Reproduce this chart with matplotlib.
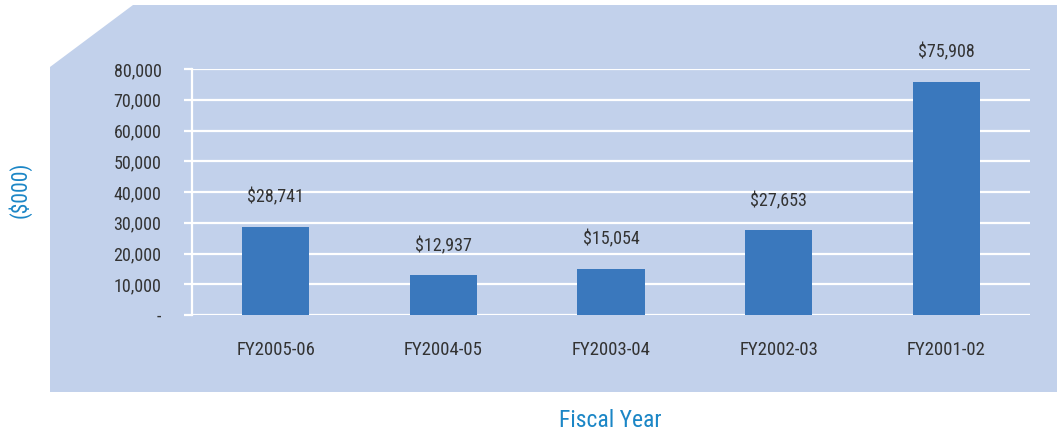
import matplotlib
matplotlib.use("Agg")
import matplotlib.pyplot as plt
from matplotlib.patches import Polygon
from matplotlib.ticker import FuncFormatter

categories = ["FY2005-06", "FY2004-05", "FY2003-04", "FY2002-03", "FY2001-02"]
values = [28741, 12937, 15054, 27653, 75908]
yticks = [0, 10000, 20000, 30000, 40000, 50000, 60000, 70000, 80000]

plt.rcParams['font.family'] = ['Roboto Condensed', 'DejaVu Sans']
W, H = 1057, 436
fig = plt.figure(figsize=(W / 100, H / 100), dpi=100)

def fp(x, y):
    return (x / W, 1 - y / H)

panel = Polygon([fp(50, 392), fp(50, 67), fp(133, 5), fp(1057, 5), fp(1057, 392)],
                closed=True, transform=fig.transFigure, facecolor="#C2D1EB",
                edgecolor="none", zorder=-5)
fig.add_artist(panel)

ax = fig.add_axes([192 / W, 1 - 315 / H, (1030 - 192) / W, (315 - 69) / H])
ax.set_facecolor("none")
ax.set_zorder(1)
x = list(range(len(categories)))
ax.bar(x, values, width=0.4, color="#3A78BD", zorder=3)
ax.set_xlim(-0.5, len(categories) - 0.5)
ax.set_ylim(0, 80000)
ax.set_yticks(yticks)
ax.yaxis.set_major_formatter(FuncFormatter(lambda v, p: "-" if v == 0 else f"{int(v):,}"))
ax.set_xticks(x)
ax.set_xticklabels(categories)
ax.grid(axis="y", color="white", linewidth=1.6, zorder=1)
ax.set_axisbelow(True)
for s in ["top", "right", "bottom"]:
    ax.spines[s].set_visible(False)
ax.spines["left"].set_color("white")
ax.spines["left"].set_linewidth(1.6)
ax.tick_params(axis="y", colors="white", length=6, width=1.6, pad=16, labelcolor="#333333", labelsize=13)
ax.tick_params(axis="x", length=0, pad=19, labelcolor="#333333", labelsize=13.5)

for xi, v in zip(x, values):
    ax.annotate(f"${v:,}", (xi, v), xytext=(0, 21), textcoords="offset points",
                ha="center", va="center", fontsize=13, color="#333333")

fig.text(20 / W, 1 - 190 / H, "($000)", rotation=90, ha="center", va="center",
         fontsize=15.5, color="#1B86C6")
fig.text(610 / W, 1 - 420 / H, "Fiscal Year", ha="center", va="center",
         fontsize=17, color="#1B86C6")

fig.savefig("out.png", dpi=100, facecolor="white")
